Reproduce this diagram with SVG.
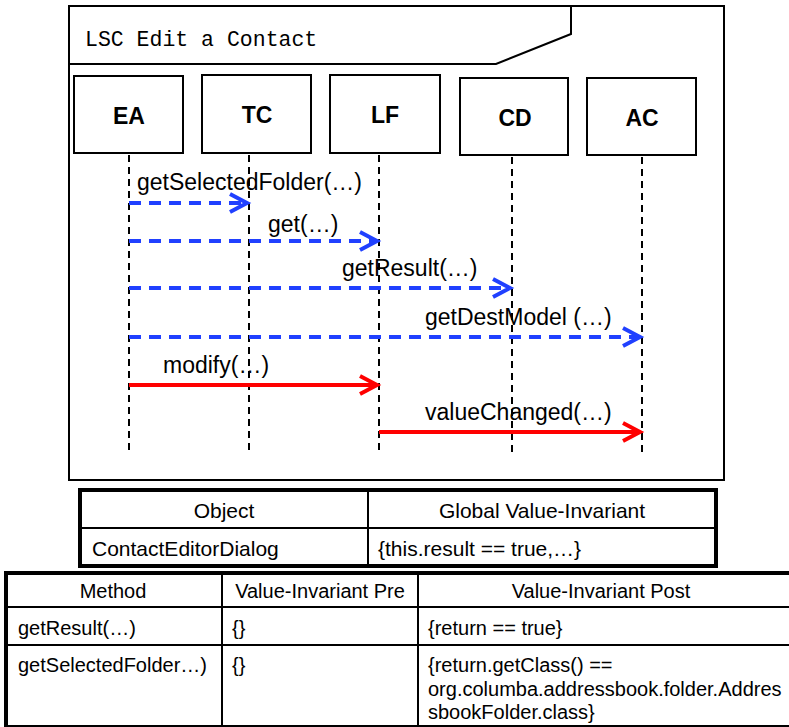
<svg xmlns="http://www.w3.org/2000/svg" width="789" height="727" viewBox="0 0 789 727">
<style>
.frame{fill:none;stroke:#000;stroke-width:2}
.box{fill:#fff;stroke:#000;stroke-width:2}
.nl{font-family:"Liberation Sans",Arial,sans-serif;font-weight:bold;font-size:23px;text-anchor:middle}
.life{stroke:#000;stroke-width:2;stroke-dasharray:7,5}
.ml{font-family:"Liberation Sans",Arial,sans-serif;font-size:23px;fill:#000}
.blue{stroke:#2040ff;stroke-width:4;stroke-dasharray:12,8;fill:none}
.red{stroke:#ff0000;stroke-width:4;fill:none}
.hb{stroke:#2040ff;stroke-width:4;fill:none}
.hr{stroke:#ff0000;stroke-width:4;fill:none}
.t1{font-family:"Liberation Sans",Arial,sans-serif;font-size:21px;fill:#000}
.tt{font-family:"Liberation Sans",Arial,sans-serif;font-size:20px;fill:#000}
.c{text-anchor:middle}
</style>
<g id="frame">
<rect x="69" y="6" width="655" height="474" class="frame"/>
<polyline points="69,64 496,64 571,34 571,6" class="frame"/>
<text x="85" y="46" font-family="Liberation Mono,Courier New,monospace" font-size="21.5">LSC Edit a Contact</text>
</g>
<g id="node-EA"><rect x="74" y="76" width="109" height="77" class="box"/><text x="129" y="124" class="nl">EA</text></g>
<g id="node-TC"><rect x="202" y="75" width="109" height="78" class="box"/><text x="257" y="123" class="nl">TC</text></g>
<g id="node-LF"><rect x="330" y="75" width="110" height="78" class="box"/><text x="385" y="123" class="nl">LF</text></g>
<g id="node-CD"><rect x="460" y="78" width="108" height="77" class="box"/><text x="515" y="126" class="nl">CD</text></g>
<g id="node-AC"><rect x="587" y="78" width="109" height="77" class="box"/><text x="642" y="126" class="nl">AC</text></g>
<g id="lifelines">
<line x1="129" y1="155" x2="129" y2="450" class="life"/>
<line x1="249" y1="155" x2="249" y2="450" class="life"/>
<line x1="379" y1="155" x2="379" y2="450" class="life"/>
<line x1="512" y1="157" x2="512" y2="453" class="life"/>
<line x1="642" y1="157" x2="642" y2="452" class="life"/>
</g>
<g id="connectors">
<line x1="129" y1="203" x2="246" y2="203" class="blue"/>
<polyline points="230,194 247,203 230,212" class="hb"/>
<line x1="129" y1="241" x2="376" y2="241" class="blue"/>
<polyline points="360,232 377,241 360,250" class="hb"/>
<line x1="129" y1="288" x2="509" y2="288" class="blue"/>
<polyline points="493,279 510,288 493,297" class="hb"/>
<line x1="129" y1="337" x2="639" y2="337" class="blue"/>
<polyline points="623,328 640,337 623,346" class="hb"/>
<line x1="129" y1="385" x2="376" y2="385" class="red"/>
<polyline points="360,376 377,385 360,394" class="hr"/>
<line x1="379" y1="432" x2="639" y2="432" class="red"/>
<polyline points="623,423 640,432 623,441" class="hr"/>
</g>
<g id="labels">
<text x="137" y="190" class="ml">getSelectedFolder(…)</text>
<text x="268" y="232" class="ml">get(…)</text>
<text x="342" y="276" class="ml">getResult(…)</text>
<text x="425" y="325" class="ml">getDestModel (…)</text>
<text x="163" y="373" class="ml">modify(…)</text>
<text x="425" y="420" class="ml">valueChanged(…)</text>
</g>
<g id="table1">
<rect x="80" y="490" width="636" height="76" fill="#fff" stroke="#000" stroke-width="4"/>
<line x1="80" y1="528" x2="716" y2="528" stroke="#000" stroke-width="2"/>
<line x1="368" y1="490" x2="368" y2="566" stroke="#000" stroke-width="2"/>
<text x="224" y="518" class="t1 c">Object</text>
<text x="542" y="518" class="t1 c">Global Value-Invariant</text>
<text x="92" y="556" class="t1">ContactEditorDialog</text>
<text x="378" y="556" class="t1">{this.result == true,…}</text>
</g>
<g id="table2">
<line x1="4" y1="573" x2="789" y2="573" stroke="#000" stroke-width="4"/>
<line x1="6" y1="571" x2="6" y2="727" stroke="#000" stroke-width="4"/>
<line x1="4" y1="607" x2="789" y2="607" stroke="#000" stroke-width="2"/>
<line x1="4" y1="645" x2="789" y2="645" stroke="#000" stroke-width="2"/>
<line x1="4" y1="726" x2="789" y2="726" stroke="#000" stroke-width="2"/>
<line x1="222" y1="573" x2="222" y2="727" stroke="#000" stroke-width="2"/>
<line x1="418" y1="573" x2="418" y2="727" stroke="#000" stroke-width="2"/>
<text x="113" y="598" class="tt c">Method</text>
<text x="320" y="598" class="tt c">Value-Invariant Pre</text>
<text x="601" y="598" class="tt c">Value-Invariant Post</text>
<text x="18" y="635" class="tt">getResult(…)</text>
<text x="232" y="635" class="tt">{}</text>
<text x="428" y="635" class="tt">{return == true}</text>
<text x="18" y="672" class="tt">getSelectedFolder…)</text>
<text x="232" y="672" class="tt">{}</text>
<text x="428" y="672" class="tt">{return.getClass() ==</text>
<text x="428" y="696" class="tt">org.columba.addressbook.folder.Addres</text>
<text x="428" y="719" class="tt">sbookFolder.class}</text>
</g>
</svg>
